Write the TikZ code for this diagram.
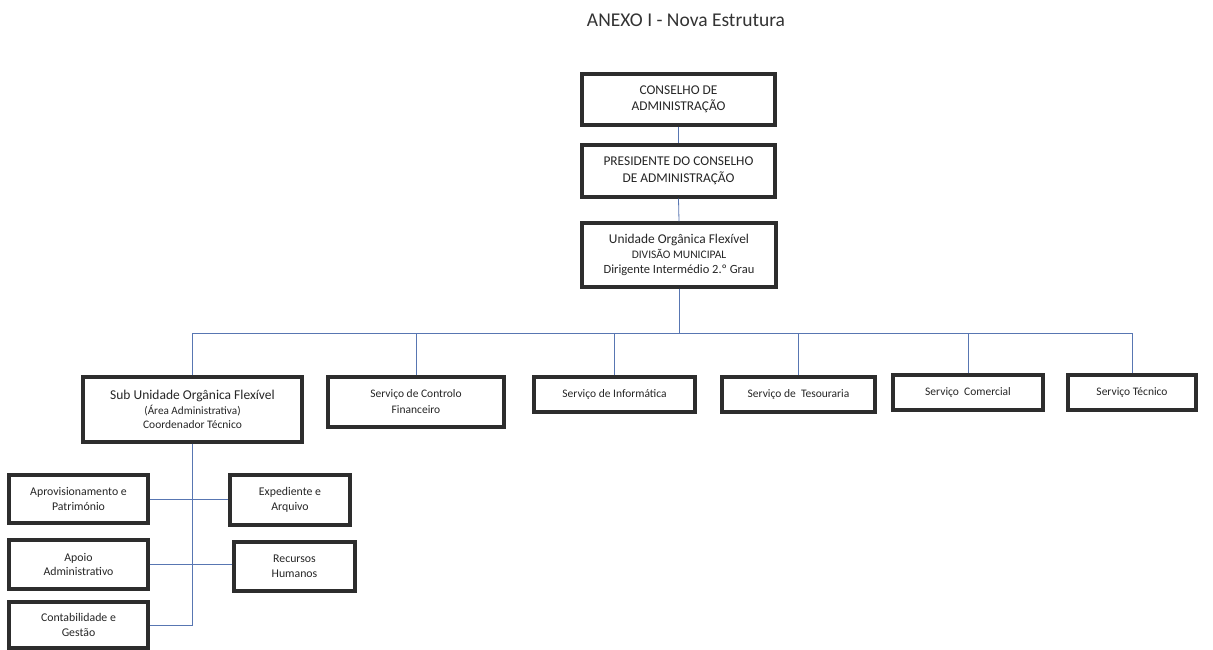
\documentclass[tikz,border=0pt]{standalone}
\usepackage{fontspec}
\setmainfont{Carlito}
\usetikzlibrary{positioning}
\definecolor{linkblue}{RGB}{88,118,178}
\definecolor{boxgray}{RGB}{45,45,45}
\tikzset{
  orgbox/.style={draw=boxgray, line width=3.2pt, fill=white, align=center,
    inner sep=2pt, text=black!85},
  link/.style={draw=linkblue, line width=0.8pt},
  topfont/.style={font=\fontsize{13.4}{16.5}\selectfont},
  midfont/.style={font=\fontsize{11.5}{14.6}\selectfont},
  servfont/.style={font=\fontsize{11.5}{16}\selectfont},
  lowfont/.style={font=\fontsize{11.8}{14.5}\selectfont}
}
\begin{document}
\begin{tikzpicture}[x=1pt,y=-1pt]
\useasboundingbox[fill=white] (0,0) rectangle (1213,650);
% title
\node[font=\fontsize{19.5}{22}\selectfont, text=black!80] (title) at (686,20) {ANEXO I - Nova Estrutura};
% top chain
\node[orgbox, topfont, minimum width=193, minimum height=51] (ca) at (678.5,99.5) {CONSELHO DE\\ADMINISTRAÇÃO};
\node[orgbox, topfont, minimum width=193, minimum height=52] (pca) at (678.5,171) {PRESIDENTE DO CONSELHO\\DE ADMINISTRAÇÃO};
\node[orgbox, midfont, minimum width=194, minimum height=64] (uof) at (679,255)
  {{\fontsize{13.4}{14.6}\selectfont Unidade Orgânica Flexível}\\
   DIVISÃO MUNICIPAL\\
   {\fontsize{12.5}{14.6}\selectfont Dirigente Intermédio 2.º Grau}};
% second level
\node[orgbox, midfont, minimum width=219, minimum height=65] (sub) at (192.5,409.5)
  {{\fontsize{13.5}{14.6}\selectfont Sub Unidade Orgânica Flexível}\\
   {\fontsize{11.2}{14.6}\selectfont (Área Administrativa)}\\
   Coordenador Técnico};
\node[orgbox, servfont, minimum width=176, minimum height=50] (contr) at (416,402) {Serviço de Controlo\\Financeiro};
\node[orgbox, servfont, minimum width=161, minimum height=35] (info) at (614.5,394.5) {Serviço de Informática};
\node[orgbox, servfont, minimum width=153, minimum height=35] (tes) at (798.5,394.5) {Serviço de~ Tesouraria};
\node[orgbox, servfont, minimum width=150, minimum height=35] (com) at (968,392.5) {Serviço~ Comercial};
\node[orgbox, servfont, minimum width=128, minimum height=35] (tec) at (1132,392.5) {Serviço Técnico};
% third level
\node[orgbox, lowfont, minimum width=139, minimum height=48] (aprov) at (78.5,499) {Aprovisionamento e\\Património};
\node[orgbox, lowfont, minimum width=120, minimum height=50] (exped) at (290,500) {Expediente e\\Arquivo};
\node[orgbox, lowfont, minimum width=139, minimum height=49] (apoio) at (78.5,564.5) {Apoio\\Administrativo};
\node[orgbox, lowfont, minimum width=121, minimum height=49] (rh) at (294.5,566.5) {Recursos\\Humanos};
\node[orgbox, lowfont, minimum width=139, minimum height=46] (cont) at (78.5,625) {Contabilidade e\\Gestão};
% connectors
\coordinate (bus) at (679,333);
\draw[link] (ca.south) -- (pca.north);
\draw[link] (pca.south) -- (uof.north);
\draw[link] (uof.south) -- (bus);
\draw[link] (sub.north) |- (tec.north |- bus) -- (tec.north);
\foreach \n in {contr,info,tes,com}{\draw[link] (\n.north) -- (\n.north |- bus);}
\draw[link] (sub.south) |- (cont.east);
\draw[link] (aprov.east) -- (aprov.east -| exped.west);
\draw[link] (apoio.east) -- (apoio.east -| rh.west);
\end{tikzpicture}
\end{document}
